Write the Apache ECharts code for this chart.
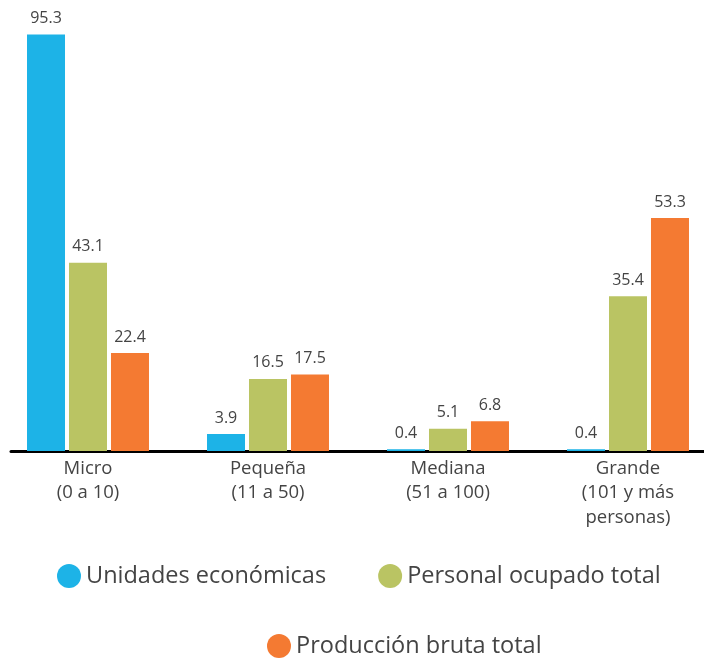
<!DOCTYPE html>
<html><head><meta charset="utf-8">
<script src="https://cdn.jsdelivr.net/npm/echarts@6/dist/echarts.min.js"></script>
<style>html,body{margin:0;padding:0;background:#fff}#c{width:704px;height:658px}</style>
</head><body><div id="c"></div>
<script>
const categories = ["Micro\n(0 a 10)", "Pequeña\n(11 a 50)", "Mediana\n(51 a 100)", "Grande\n(101 y más\npersonas)"];
const unidades = [95.3, 3.9, 0.4, 0.4];
const personal = [43.1, 16.5, 5.1, 35.4];
const produccion = [22.4, 17.5, 6.8, 53.3];
const seriesNames = ["Unidades económicas", "Personal ocupado total", "Producción bruta total"];
const colors = ["#1DB3E7", "#BAC463", "#F47A32"];
const FONT = "Open Sans";

const chart = echarts.init(document.getElementById('c'), null, {renderer: 'canvas'});
const mk = (name, data, color) => ({
  name, type: 'bar', data, barWidth: 38, barGap: '10.5%',
  xAxisIndex: 0, yAxisIndex: 0,
  itemStyle: {color},
  label: {show: true, position: 'top', distance: 8, color: '#444', fontSize: 16, fontFamily: FONT,
          formatter: p => p.value.toFixed(1)}
});
chart.setOption({
  animation: false,
  textStyle: {fontFamily: FONT},
  color: colors,
  grid: [
    {left: -2, right: -14, top: 14, bottom: 207, containLabel: false, outerBoundsMode: 'none'},
    {left: 11, right: 0, top: 14, bottom: 207, containLabel: false, outerBoundsMode: 'none'}
  ],
  xAxis: [
    {type: 'category', gridIndex: 0, data: categories,
     axisLine: {show: false}, axisTick: {show: false},
     axisLabel: {color: '#444', fontSize: 18.5, lineHeight: 24.5, margin: 5, fontFamily: FONT, interval: 0}},
    {type: 'category', gridIndex: 1, data: categories,
     axisLine: {show: true, lineStyle: {color: '#000', width: 3}}, axisTick: {show: false}, axisLabel: {show: false}}
  ],
  yAxis: [
    {type: 'value', gridIndex: 0, min: 0, max: 100, show: false, splitLine: {show: false}},
    {type: 'value', gridIndex: 1, min: 0, max: 100, show: false, splitLine: {show: false}}
  ],
  legend: [
    {data: [seriesNames[0], seriesNames[1]], left: 52, top: 559, icon: 'circle', itemWidth: 24, itemHeight: 24,
     itemGap: 52, textStyle: {color: '#444', fontSize: 23.5, fontFamily: FONT}},
    {data: [seriesNames[2]], left: 262, top: 629, icon: 'circle', itemWidth: 24, itemHeight: 24,
     textStyle: {color: '#444', fontSize: 23.5, fontFamily: FONT}}
  ],
  series: [
    mk(seriesNames[0], unidades, colors[0]),
    mk(seriesNames[1], personal, colors[1]),
    mk(seriesNames[2], produccion, colors[2])
  ]
});
</script></body></html>
